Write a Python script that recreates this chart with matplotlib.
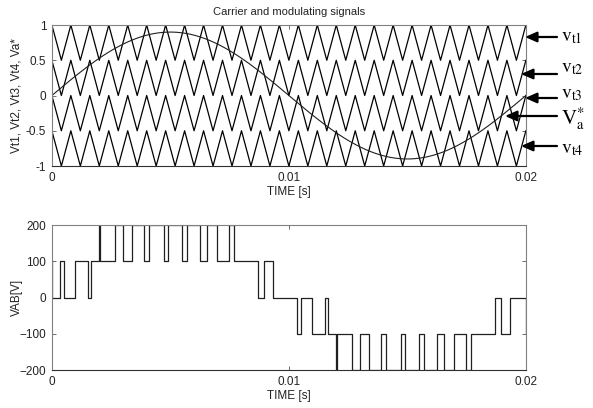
import numpy as np
import matplotlib
matplotlib.use("Agg")
import matplotlib.pyplot as plt

plt.rcParams['font.family'] = ['Liberation Sans', 'DejaVu Sans']
plt.rcParams['mathtext.fontset'] = 'stix'

# Level-shifted carriers (phase disposition) and the sinusoidal reference
T_END = 0.02
carrier_freq = 1250.0                 # Hz
carrier_bands = [(0.5, 1.0), (0.0, 0.5), (-0.5, 0.0), (-1.0, -0.5)]
ref_amp = 0.9
ref_freq = 50.0                       # Hz

# Output voltage VAB: switching instants [s] and the level held after each one [V]
vab_t = [0.0, 0.0, 0.000326, 0.000516, 0.000981, 0.001534, 0.001644,
         0.001980, 0.002028, 0.002665, 0.002980, 0.003372, 0.003876, 0.004108, 0.004717,
         0.004881, 0.005511, 0.005697, 0.006264, 0.006565, 0.006985, 0.007489, 0.007680,
         0.008688, 0.008971, 0.009347,
         0.010326, 0.010516, 0.010981, 0.011534, 0.011644,
         0.011980, 0.012028, 0.012665, 0.012980, 0.013372, 0.013876, 0.014108, 0.014717,
         0.014881, 0.015511, 0.015697, 0.016264, 0.016565, 0.016985, 0.017489, 0.017680,
         0.018688, 0.018971, 0.019347, 0.020000]
vab_v = [100, 0, 100, 0, 100, 0, 100,
         200, 100, 200, 100, 200, 100, 200, 100,
         200, 100, 200, 100, 200, 100, 200, 100,
         0, 100, 0,
         -100, 0, -100, 0, -100,
         -200, -100, -200, -100, -200, -100, -200, -100,
         -200, -100, -200, -100, -200, -100, -200, -100,
         0, -100, 0, -100]

# right-hand labels: (text, size, text y px, arrow y px, arrow tip x px)
side_labels = [
    (r'$\mathrm{v}_{\mathrm{t1}}$', 14, 37, 37, 525),
    (r'$\mathrm{v}_{\mathrm{t2}}$', 14, 68, 74, 521),
    (r'$\mathrm{v}_{\mathrm{t3}}$', 14, 94, 98, 525),
    (r'$\mathrm{V}_{\mathrm{a}}^{*}$', 15, 119, 116, 505),
    (r'$\mathrm{v}_{\mathrm{t4}}$', 14, 149, 146, 521),
]

W, H = 593, 408
fig = plt.figure(figsize=(W / 100, H / 100), dpi=100)
ax1 = fig.add_axes([0.0875, 0.5931, 0.7993, 0.3456])
ax2 = fig.add_axes([0.0875, 0.0931, 0.7993, 0.3554])

# carrier vertices: peak at t=0, valley half a period later
n_half = int(round(2 * carrier_freq * T_END))
tv = np.arange(n_half + 1) / (2 * carrier_freq)
tri = (np.arange(n_half + 1) + 1) % 2
for lo, hi in carrier_bands:
    ax1.plot(tv, lo + (hi - lo) * tri, color='black', lw=0.9)

ts = np.linspace(0, T_END, 800)
ax1.plot(ts, ref_amp * np.sin(2 * np.pi * ref_freq * ts), color='#202020', lw=0.8)

ax2.plot(vab_t, vab_v, drawstyle='steps-post', color='#202020', lw=0.9)

for ax in (ax1, ax2):
    ax.set_xlim(0, T_END)
    ax.set_xticks([0, 0.01, 0.02])
    ax.set_xticklabels(['0', '0.01', '0.02'])
    ax.tick_params(direction='in', top=True, right=True, length=3, width=0.6,
                   color='#555555', labelsize=8.5, labelcolor='#222222', pad=4)
    for side in ('top', 'left', 'right'):
        ax.spines[side].set_color('#808080')
        ax.spines[side].set_linewidth(0.8)
    ax.spines['bottom'].set_color('#303030')
    ax.spines['bottom'].set_linewidth(0.8)
    ax.set_xlabel('TIME [s]', fontsize=8.5, color='#222222', labelpad=2)
    ax.yaxis.set_label_coords(-0.062, 0.5)

ax1.set_ylim(-1, 1)
ax1.set_yticks([-1, -0.5, 0, 0.5, 1])
ax1.set_yticklabels(['-1', '-0.5', '0', '0.5', '1'])
ax1.set_ylabel('Vt1, Vt2, Vt3, Vt4, Va*', fontsize=8.5, color='#222222')
ax1.set_title('Carrier and modulating signals', fontsize=8, color='#222222', pad=7)

ax2.set_ylim(-200, 200)
ax2.set_yticks([-200, -100, 0, 100, 200])
ax2.set_ylabel('VAB[V]', fontsize=8.5, color='#222222')

# arrows pointing at each trace from the right
for txt, size, ty, ay, tip in side_labels:
    ax1.annotate('', xy=(tip / W, 1 - ay / H), xytext=(557 / W, 1 - ay / H),
                 xycoords='figure fraction', textcoords='figure fraction',
                 arrowprops=dict(arrowstyle='-|>,head_length=0.5,head_width=0.22',
                                 color='black', lw=1.6, mutation_scale=14,
                                 shrinkA=0, shrinkB=0),
                 annotation_clip=False)
    fig.text(561 / W, 1 - ty / H, txt, fontsize=size, va='center', ha='left',
             color='black')

fig.savefig('out.png', dpi=100)
